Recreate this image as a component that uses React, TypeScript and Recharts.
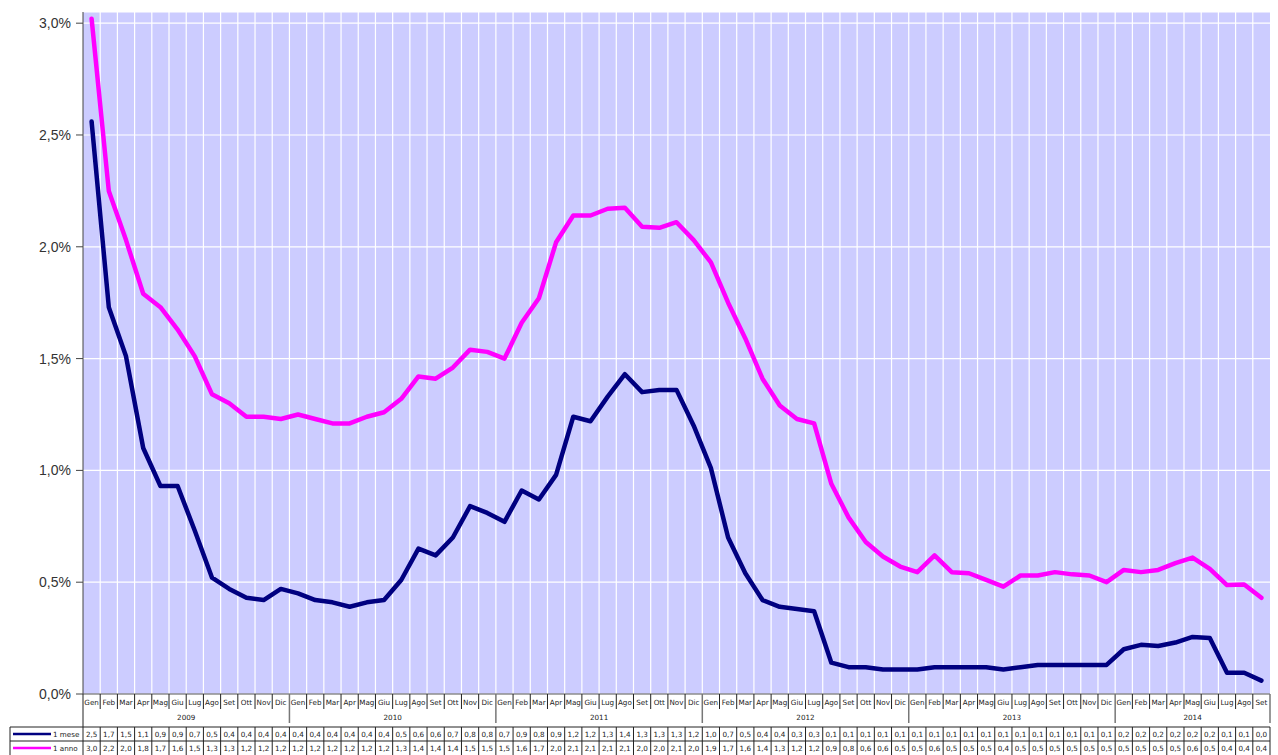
import React from 'react';
import { LineChart, Line, XAxis, YAxis, CartesianGrid } from 'recharts';

const MONTHS = ['Gen', 'Feb', 'Mar', 'Apr', 'Mag', 'Giu', 'Lug', 'Ago', 'Set', 'Ott', 'Nov', 'Dic'];
const YEARS = ['2009', '2010', '2011', '2012', '2013', '2014'];
const MONTHS_IN_YEAR = [12, 12, 12, 12, 12, 9];

// tassi (%)
const MESE = [
  2.56, 1.73, 1.51, 1.1, 0.93, 0.93, 0.73, 0.52, 0.47, 0.43, 0.42, 0.47,
  0.45, 0.42, 0.41, 0.39, 0.41, 0.42, 0.51, 0.65, 0.62, 0.7, 0.84, 0.81,
  0.77, 0.91, 0.87, 0.98, 1.24, 1.22, 1.33, 1.43, 1.35, 1.36, 1.36, 1.2,
  1.01, 0.7, 0.54, 0.42, 0.39, 0.38, 0.37, 0.14, 0.12, 0.12, 0.11, 0.11,
  0.11, 0.12, 0.12, 0.12, 0.12, 0.11, 0.12, 0.13, 0.13, 0.13, 0.13, 0.13,
  0.2, 0.22, 0.215, 0.23, 0.255, 0.25, 0.095, 0.095, 0.06,
];
const ANNO = [
  3.02, 2.25, 2.03, 1.79, 1.73, 1.63, 1.51, 1.34, 1.3, 1.24, 1.24, 1.23,
  1.25, 1.23, 1.21, 1.21, 1.24, 1.26, 1.32, 1.42, 1.41, 1.46, 1.54, 1.53,
  1.5, 1.66, 1.77, 2.02, 2.14, 2.14, 2.17, 2.175, 2.09, 2.085, 2.11, 2.03,
  1.93, 1.75, 1.59, 1.41, 1.29, 1.23, 1.21, 0.94, 0.79, 0.68, 0.615, 0.57,
  0.545, 0.62, 0.545, 0.54, 0.51, 0.48, 0.53, 0.53, 0.545, 0.535, 0.53, 0.5,
  0.555, 0.545, 0.555, 0.585, 0.61, 0.56, 0.487, 0.49, 0.43,
];

// valori mostrati nella tabella sotto il grafico
const TAB_MESE = [
  '2,5', '1,7', '1,5', '1,1', '0,9', '0,9', '0,7', '0,5', '0,4', '0,4', '0,4', '0,4',
  '0,4', '0,4', '0,4', '0,4', '0,4', '0,4', '0,5', '0,6', '0,6', '0,7', '0,8', '0,8',
  '0,7', '0,9', '0,8', '0,9', '1,2', '1,2', '1,3', '1,4', '1,3', '1,3', '1,3', '1,2',
  '1,0', '0,7', '0,5', '0,4', '0,4', '0,3', '0,3', '0,1', '0,1', '0,1', '0,1', '0,1',
  '0,1', '0,1', '0,1', '0,1', '0,1', '0,1', '0,1', '0,1', '0,1', '0,1', '0,1', '0,1',
  '0,2', '0,2', '0,2', '0,2', '0,2', '0,2', '0,1', '0,1', '0,0',
];
const TAB_ANNO = [
  '3,0', '2,2', '2,0', '1,8', '1,7', '1,6', '1,5', '1,3', '1,3', '1,2', '1,2', '1,2',
  '1,2', '1,2', '1,2', '1,2', '1,2', '1,2', '1,3', '1,4', '1,4', '1,4', '1,5', '1,5',
  '1,5', '1,6', '1,7', '2,0', '2,1', '2,1', '2,1', '2,1', '2,0', '2,0', '2,1', '2,0',
  '1,9', '1,7', '1,6', '1,4', '1,3', '1,2', '1,2', '0,9', '0,8', '0,6', '0,6', '0,5',
  '0,5', '0,6', '0,5', '0,5', '0,5', '0,4', '0,5', '0,5', '0,5', '0,5', '0,5', '0,5',
  '0,5', '0,5', '0,5', '0,5', '0,6', '0,5', '0,4', '0,4', '0,4',
];

const Y_TICKS = [0, 0.5, 1, 1.5, 2, 2.5, 3];

const W = 1278;
const H = 755;
const LEFT = 83;
const RIGHT = 8;
const TOP = 12;
const AXIS_H = 61;
const BOTTOM_Y = H - AXIS_H;
const N = MESE.length;
const BW = (W - LEFT - RIGHT) / N;

const COL_MESE = '#000080';
const COL_ANNO = '#FF00FF';
const SMALL = { fontFamily: 'DejaVu Sans, Verdana, sans-serif', fontSize: 7.2, fill: '#222' };

const data = MESE.map((v, i) => ({
  i,
  mese: v,
  anno: ANNO[i],
}));

// indici di inizio anno
const yearStarts: number[] = [];
MONTHS_IN_YEAR.reduce((acc, n) => {
  yearStarts.push(acc);
  return acc + n;
}, 0);

function TableTick(props: any) {
  const { x, payload } = props;
  const i = Number(payload.value);
  const left = x - BW / 2;
  const right = x + BW / 2;
  const yr = yearStarts.indexOf(i);
  const isYearEnd = yearStarts.includes(i + 1) || i === N - 1;
  const r1 = 727;
  const r2 = 741;
  const r3 = 755;
  return (
    <g>
      {/* mese */}
      <text x={x} y={BOTTOM_Y + 11} textAnchor="middle" {...SMALL}>
        {MONTHS[i % 12]}
      </text>
      <line
        x1={right}
        x2={right}
        y1={BOTTOM_Y}
        y2={isYearEnd ? 723 : 709}
        stroke={isYearEnd ? '#777' : '#222'}
        strokeWidth={isYearEnd ? 1.5 : 1}
      />
      {yr >= 0 && (
        <text x={left + (MONTHS_IN_YEAR[yr] * BW) / 2} y={720} textAnchor="middle" {...SMALL}>
          {YEARS[yr]}
        </text>
      )}
      {/* tabella */}
      <line x1={right} x2={right} y1={r1} y2={r3} stroke="#222" />
      <text x={x} y={r1 + 10} textAnchor="middle" {...SMALL}>
        {TAB_MESE[i]}
      </text>
      <text x={x} y={r2 + 10} textAnchor="middle" {...SMALL}>
        {TAB_ANNO[i]}
      </text>
      {i === 0 && (
        <g>
          <line x1={left} x2={left} y1={BOTTOM_Y} y2={r3} stroke="#222" />
          <line x1={10} x2={left + N * BW} y1={r1} y2={r1} stroke="#222" />
          <line x1={10} x2={left + N * BW} y1={r2} y2={r2} stroke="#222" />
          <line x1={10} x2={10} y1={r1} y2={r3} stroke="#222" />
          <line x1={13} x2={51} y1={r1 + 7} y2={r1 + 7} stroke={COL_MESE} strokeWidth={2.5} />
          <text x={53} y={r1 + 10} {...SMALL}>1 mese</text>
          <line x1={13} x2={51} y1={r2 + 7} y2={r2 + 7} stroke={COL_ANNO} strokeWidth={2.5} />
          <text x={53} y={r2 + 10} {...SMALL}>1 anno</text>
        </g>
      )}
    </g>
  );
}

export default function App() {
  return (
    <div style={{ position: 'absolute', left: 0, top: 0, width: W, height: H, background: '#fff' }}>
      <LineChart
        width={W}
        height={H}
        data={data}
        margin={{ top: TOP, right: RIGHT, bottom: 0, left: 0 }}
      >
        <CartesianGrid
          fill="#CCCCFF"
          fillOpacity={1}
          stroke="#FFFFFF"
          strokeWidth={1.2}
          verticalCoordinatesGenerator={({ offset }: any) =>
            Array.from({ length: N - 1 }, (_, k) => offset.left + ((k + 1) * offset.width) / N)
          }
        />
        <XAxis
          dataKey="i"
          type="category"
          scale="band"
          interval={0}
          height={AXIS_H}
          axisLine={{ stroke: '#555' }}
          tickLine={false}
          tick={<TableTick />}
        />
        <XAxis
          xAxisId="top"
          dataKey="i"
          scale="band"
          orientation="top"
          height={0}
          tick={false}
          tickLine={false}
          axisLine={{ stroke: '#888' }}
        />
        <YAxis
          width={LEFT}
          domain={[0, 3.05]}
          ticks={Y_TICKS}
          allowDataOverflow
          tickFormatter={(v: number) => v.toFixed(1).replace('.', ',') + '%'}
          tick={{ fontFamily: 'Liberation Sans, Arial, sans-serif', fontSize: 14, fill: '#333' }}
          tickSize={7}
          tickMargin={5}
          axisLine={{ stroke: '#444' }}
          tickLine={{ stroke: '#444' }}
        />
        <YAxis yAxisId="right" orientation="right" width={0} tick={false} tickLine={false} axisLine={{ stroke: '#888' }} />
        <Line
          type="linear"
          dataKey="anno"
          stroke={COL_ANNO}
          strokeWidth={4.5}
          strokeLinejoin="round"
          strokeLinecap="round"
          dot={false}
          isAnimationActive={false}
        />
        <Line
          type="linear"
          dataKey="mese"
          stroke={COL_MESE}
          strokeWidth={4.5}
          strokeLinejoin="round"
          strokeLinecap="round"
          dot={false}
          isAnimationActive={false}
        />
      </LineChart>
    </div>
  );
}
